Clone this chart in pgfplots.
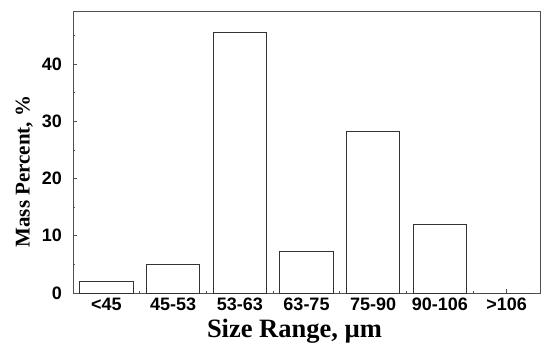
\documentclass[border=0pt]{standalone}
\usepackage{pgfplots}
\pgfplotsset{compat=1.18}
\usepackage{fontspec}
\setmainfont{Liberation Sans}
\newfontfamily\serifb{Liberation Serif}
\definecolor{axgray}{HTML}{505050}
\begin{document}
\begin{tikzpicture}
\begin{axis}[
  scale only axis,
  width=467bp, height=281bp,
  xmin=-0.5, xmax=6.5,
  ymin=0, ymax=49.1,
  xtick={0,...,6},
  xticklabels={{<45},{45-53},{53-63},{63-75},{75-90},{90-106},{>106}},
  minor xtick={0.5,1.5,...,5.5},
  ytick={0,10,20,30,40},
  minor ytick={5,15,25,35,45},
  xtick pos=left, ytick pos=left,
  tick align=inside,
  major tick length=4bp, minor tick length=2bp,
  every tick/.style={axgray, line width=0.8pt},
  axis line style={axgray, line width=1pt},
  /pgf/number format/assume math mode=true,
  tick label style={font=\fontsize{18bp}{20bp}\selectfont\bfseries, inner sep=0pt},
  xticklabel style={anchor=north, yshift=-5bp},
  yticklabel style={anchor=east, xshift=-11bp},
  xlabel style={font=\fontsize{26.5bp}{28bp}\selectfont\serifb\bfseries,
    at={(axis description cs:0.5,0)}, anchor=base, inner sep=0pt,
    xshift=-12bp, yshift=-44bp},
  ylabel style={font=\fontsize{21bp}{24bp}\selectfont\serifb\bfseries,
    at={([shift={(-40bp,-19bp)}]axis description cs:0,0.5)}, anchor=south, inner sep=0pt},
  xlabel={Size Range, µm},
  ylabel={Mass Percent, \%},
]
\addplot[ybar, bar width=0.8, fill=white, draw=black!80, line width=0.9pt]
  coordinates {(0,2.0) (1,5.0) (2,45.5) (3,7.2) (4,28.3) (5,12.0) (6,0)};
\coordinate (bl) at (rel axis cs:0,0);
\coordinate (tr) at (rel axis cs:1,1);
\end{axis}
\path ([shift={(-73bp,-48bp)}]bl) rectangle ([shift={(4bp,12bp)}]tr);
\end{tikzpicture}
\end{document}
